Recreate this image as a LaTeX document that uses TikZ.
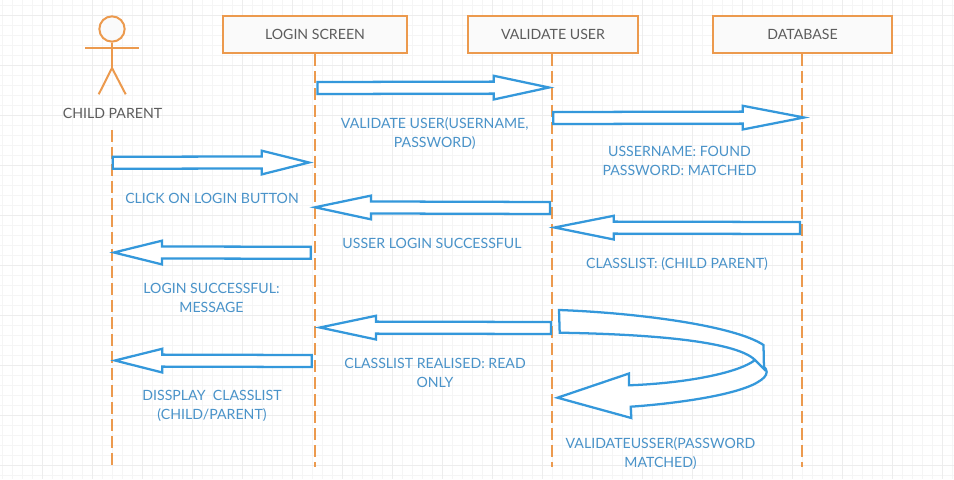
\documentclass[tikz,border=0pt]{standalone}
\usepackage{fontspec}
\setmainfont{Lato}
\usetikzlibrary{calc}
\definecolor{orangeln}{HTML}{EC9A4E}
\definecolor{blueln}{HTML}{3498DB}
\definecolor{bluetx}{HTML}{4A93C9}
\definecolor{graytx}{HTML}{5C5C5C}
\tikzstyle{box}=[rectangle,draw=orangeln,fill=black!2,line width=1.9pt,text=graytx,font=\fontsize{10.6}{14.25}\selectfont,inner sep=0pt]
\tikzstyle{lbl}=[text=bluetx,align=center,font=\fontsize{10.6}{14.25}\selectfont,inner sep=0pt]
\tikzstyle{lifeline}=[draw=orangeln,line width=1.5pt,dash pattern=on 9pt off 3.75pt]
\tikzstyle{flow}=[draw=blueln,fill=white,line width=1.7pt,line join=miter]
\tikzstyle{stick}=[draw=orangeln,line width=1.5pt]
\tikzstyle{gridmin}=[draw=black!4,line width=.75pt]
\tikzstyle{gridmaj}=[draw=black!7,line width=.75pt]
% #1 tail, #2 tip, #3 head length
\newcommand{\blockarrow}[3]{
\coordinate (#1b) at ($(#2)!#3!(#1)$);
\draw[flow] ($(#1)!4.5pt!90:(#2)$) -- ($(#1b)!4.5pt!90:(#2)$) -- ($(#1b)!8.9pt!90:(#2)$) -- (#2)
 -- ($(#1b)!8.9pt!-90:(#2)$) -- ($(#1b)!4.5pt!-90:(#2)$) -- ($(#1)!4.5pt!-90:(#2)$) -- cycle;
}
\begin{document}
\begin{tikzpicture}[x=.75pt,y=-.75pt]
\useasboundingbox[fill=white] (0,0) rectangle (954,479);
% grid
\foreach \x in {2.7,12.7,...,952.7} \draw[gridmin] (\x,0) -- (\x,479);
\foreach \y in {5,15,...,475} \draw[gridmin] (0,\y) -- (954,\y);
\foreach \x in {42.7,92.7,...,942.7} \draw[gridmaj] (\x,0) -- (\x,479);
\foreach \y in {15,65,...,465} \draw[gridmaj] (0,\y) -- (954,\y);
% head row
\node[box,minimum width=138pt,minimum height=28pt] (login) at (315,34.5) {LOGIN SCREEN};
\node[box,minimum width=127.5pt,minimum height=28pt] (validate) at (553,34.5) {VALIDATE USER};
\node[box,minimum width=134pt,minimum height=28pt] (database) at (802.5,34.5) {DATABASE};
\node[circle,draw=orangeln,fill=black!2,line width=1.5pt,minimum size=19pt,inner sep=0pt] (head) at (112,29) {};
\node[text=graytx,font=\fontsize{10.6}{14.25}\selectfont,inner sep=0pt] (child) at (112.5,113.5) {CHILD PARENT};
% actor
\coordinate (hip) at (112,68);
\coordinate (armL) at (85,47.7);
\coordinate (armR) at (139,47.7);
\coordinate (legL) at (98.7,94.3);
\coordinate (legR) at (125.7,94.3);
\draw[stick] (head) -- (hip);
\draw[stick] (armL) -- (armR);
\draw[stick] (legL) -- (hip) -- (legR);
% lifelines
\coordinate (childtop) at (112,130);
\coordinate (childend) at (112,465);
\coordinate (loginend) at (315,467);
\coordinate (validateend) at (551.7,467);
\coordinate (databaseend) at (802,467);
\draw[lifeline] (childtop) -- (childend);
\draw[lifeline] (login.south) -- (loginend);
\draw[lifeline] (validate.south-|validateend) -- (validateend);
\draw[lifeline] (database.south-|databaseend) -- (databaseend);
% messages
\coordinate (m1) at (317.5,88);      \coordinate (m1t) at (549,87.5);
\coordinate (m2) at (553.3,118);     \coordinate (m2t) at (804,117.5);
\coordinate (m3) at (112.7,162.7);   \coordinate (m3t) at (309,162.5);
\coordinate (m4) at (550,208);       \coordinate (m4t) at (315,207.3);
\coordinate (m5) at (800,228);       \coordinate (m5t) at (554.5,227.5);
\coordinate (m6) at (310.7,252.7);   \coordinate (m6t) at (114,252.5);
\coordinate (m7) at (551,328);       \coordinate (m7t) at (320,327.5);
\coordinate (m8) at (311.7,361);     \coordinate (m8t) at (115,360.5);
\blockarrow{m1}{m1t}{41.5pt}
\blockarrow{m2}{m2t}{46pt}
\blockarrow{m3}{m3t}{35.5pt}
\blockarrow{m4}{m4t}{42pt}
\blockarrow{m5}{m5t}{44.5pt}
\blockarrow{m6}{m6t}{36pt}
\blockarrow{m7}{m7t}{42pt}
\blockarrow{m8}{m8t}{35.5pt}
% self call
\coordinate (selfa) at (559,310);
\coordinate (selfb) at (559.7,332.7);
\coordinate (selfbend) at (755,360);
\coordinate (selftip) at (557.5,397.7);
\draw[flow] (selfbend) .. controls (761,364) and (767,368) .. (766.7,372) .. controls (766.5,376) and (763,379) .. (758,382)
 .. controls (735,396) and (670,404) .. (630.7,406.7) -- (631.3,418) -- (selftip) -- (629,373.5) -- (629,385.3)
 .. controls (690,383) and (740,372) .. (selfbend) -- cycle;
\draw[flow] (selfa) .. controls (640,313) and (735,326) .. (763.5,345) -- (764,369) -- (selfbend)
 .. controls (735,340) and (640,334) .. (selfb) -- cycle;
% labels
\node[lbl] (l1) at (434.7,133.5) {VALIDATE USER(USERNAME,\\PASSWORD)};
\node[lbl] (l2) at (679.5,160.5) {USSERNAME: FOUND\\PASSWORD: MATCHED};
\node[lbl] (l3) at (212,198) {CLICK ON LOGIN BUTTON};
\node[lbl] (l4) at (432,243) {USSER LOGIN SUCCESSFUL};
\node[lbl] (l5) at (677,264) {CLASSLIST: (CHILD PARENT)};
\node[lbl] (l6) at (211.5,297.5) {LOGIN SUCCESSFUL:\\MESSAGE};
\node[lbl] (l7) at (435,372.5) {CLASSLIST REALISED: READ\\ONLY};
\node[lbl] (l8) at (212,405.5) {DISSPLAY~ CLASSLIST\\(CHILD/PARENT)};
\node[lbl] (l9) at (660.5,453.5) {VALIDATEUSSER(PASSWORD\\MATCHED)};
\end{tikzpicture}
\end{document}
